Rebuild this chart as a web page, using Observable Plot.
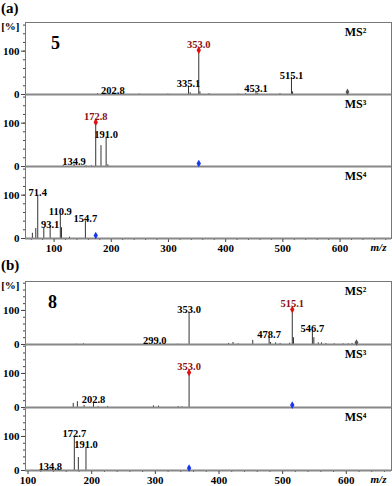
<!DOCTYPE html>
<html><head><meta charset="utf-8">
<script src="https://cdn.jsdelivr.net/npm/d3@7"></script>
<script src="https://cdn.jsdelivr.net/npm/@observablehq/plot@0.6"></script>
<style>
body{margin:0;background:#fff;width:392px;height:486px;position:relative;overflow:hidden;font-family:"Liberation Serif",serif;}
.lab{position:absolute;left:1px;font-weight:bold;font-size:15px;z-index:2;line-height:16px;}
.panel{position:absolute;left:0;z-index:1;}
</style></head><body>
<div class="panel" id="pa" style="top:0px"></div>
<div class="panel" id="pb" style="top:258px"></div>
<div class="lab" style="top:0px">(a)</div>
<div class="lab" style="top:257px">(b)</div>
<script>
// ---- data ----
const stages = ["MS2", "MS3", "MS4"];
const stageTitles = ["MS²", "MS³", "MS⁴"];
const xTickLabels = [100, 200, 300, 400, 500, 600];

// (a) compound 5
const a_ms2_mz  = [176, 191, 202.8, 249, 299, 335.1, 338, 353.0, 355, 371, 422, 435, 453.1, 456, 495, 515.1, 517];
const a_ms2_int = [2, 2, 4, 1, 1, 19, 4, 100, 6, 2, 1, 2, 7, 3, 2, 39, 6];
const a_ms3_mz  = [116, 134.9, 156, 165, 172.8, 182, 191.0, 194];
const a_ms3_int = [2, 5, 2, 2, 100, 48, 68, 4];
const a_ms4_mz  = [62, 68, 71.4, 82, 93.1, 110.9, 113, 127, 154.7];
const a_ms4_int = [12, 23, 100, 25, 27, 57, 25, 3, 40];
const a_labels_black = [[202.8, 335.1, 453.1, 515.1], [134.9, 191.0], [71.4, 93.1, 110.9, 154.7]];
const a_labels_red   = [[353.0], [172.8], []];
const a_blue = [null, 353.0, 172.8];
const a_gray = 613;

// (b) compound 8
const b_ms2_mz  = [176, 187, 291, 299.0, 335, 353.0, 415, 422, 430, 453, 478.7, 481, 489, 496, 511, 515.1, 517, 546.7, 549, 556, 561, 568, 581, 595, 603, 609];
const b_ms2_int = [1, 2, 2, 3, 1, 95, 3, 6, 2, 12, 22, 6, 5, 3, 4, 100, 20, 41, 20, 5, 5, 3, 2, 2, 2, 3];
const b_ms3_mz  = [171, 177.5, 188, 202.8, 210, 225, 297, 305, 336, 342, 353.0];
const b_ms3_int = [12, 17, 6, 15, 2, 3, 5, 4, 3, 2, 100];
const b_ms4_mz  = [134.8, 172.7, 179, 191.0];
const b_ms4_int = [3, 100, 38, 68];
const b_labels_black = [[299.0, 353.0, 478.7, 546.7], [202.8], [134.8, 172.7, 191.0]];
const b_labels_red   = [[515.1], [353.0], []];
const b_blue = [null, 515.1, 353.0];
const b_gray = 616;

// ---- build ----
function peaksOf(mzs, ints) {
  return stages.flatMap((s, k) => mzs[k].map((m, i) => ({panel: s, mz: m, int: ints[k][i]})));
}
function labelsOf(list, peaks) {
  return stages.flatMap((s, k) => list[k].map(m => {
    const p = peaks.find(d => d.panel === s && d.mz === m);
    return {panel: s, mz: m, int: p ? p.int : 0, txt: m.toFixed(1)};
  }));
}

function makePanel(o) {
  const peaks = peaksOf(o.mz, o.int);
  const black = labelsOf(o.black, peaks);
  const red = labelsOf(o.red, peaks);
  const blue = stages.map((s, k) => o.blue[k] == null ? null : {panel: s, mz: o.blue[k], int: 7}).filter(d => d);
  const gray = [{panel: "MS2", mz: o.gray, int: 6}];
  const titles = stages.map((s, k) => ({panel: s, t: stageTitles[k]}));
  const minor = d3.range(Math.ceil(o.xDomain[0] / 20) * 20, o.xDomain[1], 20);
  const font = {fontWeight: "bold"};
  return Plot.plot({
    width: 392, height: o.height,
    marginLeft: 25, marginRight: 1, marginTop: o.marginTop, marginBottom: o.marginBottom,
    style: {fontFamily: "'Liberation Serif', serif", fontSize: "11px", fontWeight: "bold", color: "#000", background: "transparent", overflow: "visible"},
    x: {domain: o.xDomain, label: null},
    y: {domain: [0, o.yMax], label: null},
    fy: {domain: stages, padding: 0, axis: null, label: null},
    marks: [
      Plot.frame({stroke: "#777", strokeWidth: 1}),
      Plot.axisY({ticks: d3.range(0, o.yMax, 20), tickSize: 2, tickFormat: () => "", stroke: "#444"}),
      Plot.axisY({ticks: [0, 100], tickSize: 4, tickPadding: 2, stroke: "#444", fill: "#000"}),
      Plot.axisX({ticks: minor, tickSize: 2, tickFormat: () => "", stroke: "#444"}),
      Plot.axisX({ticks: xTickLabels, tickSize: 4, tickPadding: 2, stroke: "#444", fill: "#000"}),
      Plot.ruleX(peaks, {x: "mz", y1: 0, y2: "int", fy: "panel", stroke: "#333", strokeWidth: 1}),
      Plot.ruleY([0], {stroke: "#888", strokeWidth: 2}),
      Plot.text(black, {x: "mz", y: "int", fy: "panel", text: "txt", lineAnchor: "bottom", dy: 1, fill: "#000", fontSize: 10.5, ...font}),
      Plot.dot(red, {x: "mz", y: "int", fy: "panel", symbol: "diamond", r: 2.3, fill: "#e01010", dy: -1}),
      Plot.text(red, {x: "mz", y: "int", fy: "panel", text: "txt", lineAnchor: "bottom", dy: -3, fill: "#8b1010", fontSize: 10.5, ...font}),
      Plot.dot(blue, {x: "mz", y: "int", fy: "panel", symbol: "diamond", r: 2.3, fill: "#1838f0"}),
      Plot.dot(gray, {x: "mz", y: "int", fy: "panel", symbol: "diamond", r: 2, fill: "#555"}),
      Plot.text(titles, {fy: "panel", text: "t", frameAnchor: "top-right", textAnchor: "middle", lineAnchor: "middle", dx: -36, dy: 10, fontSize: 12, ...font}),
      Plot.text([{panel: "MS2"}], {fy: "panel", text: () => o.cpd, frameAnchor: "top-left", textAnchor: "middle", lineAnchor: "middle", dx: o.cpdDx, dy: 21, fontSize: 18, ...font}),
      Plot.text([{panel: "MS2"}], {fy: "panel", text: () => "[%]", frameAnchor: "top-left", textAnchor: "end", lineAnchor: "middle", dx: -6, dy: 4, fontSize: 11, ...font}),
      Plot.text([{panel: "MS4"}], {fy: "panel", text: () => "m/z", frameAnchor: "bottom-right", textAnchor: "middle", lineAnchor: "top", dx: -13, dy: 5, fontSize: 11, fontStyle: "italic", ...font})
    ]
  });
}

document.getElementById("pa").appendChild(makePanel({
  mz: [a_ms2_mz, a_ms3_mz, a_ms4_mz], int: [a_ms2_int, a_ms3_int, a_ms4_int],
  black: a_labels_black, red: a_labels_red, blue: a_blue, gray: a_gray, cpd: "5", cpdDx: 30,
  xDomain: [50, 690], yMax: 166, height: 260, marginTop: 21, marginBottom: 22
}));
document.getElementById("pb").appendChild(makePanel({
  mz: [b_ms2_mz, b_ms3_mz, b_ms4_mz], int: [b_ms2_int, b_ms3_int, b_ms4_int],
  black: b_labels_black, red: b_labels_red, blue: b_blue, gray: b_gray, cpd: "8", cpdDx: 27,
  xDomain: [96, 671], yMax: 185, height: 228, marginTop: 22, marginBottom: 16
}));
</script>
</body></html>
